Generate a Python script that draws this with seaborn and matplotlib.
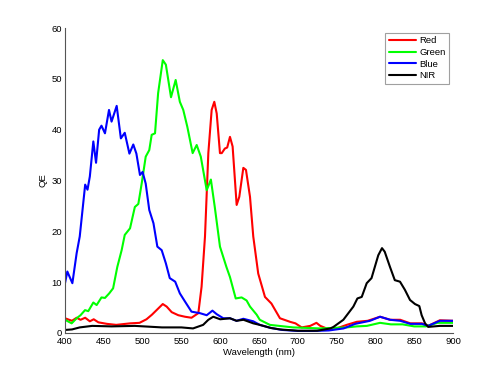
import numpy as np
import pandas as pd
import matplotlib
matplotlib.use("Agg")
import matplotlib.pyplot as plt
import seaborn as sns

red_x = [400, 409, 415, 420, 426, 432, 437, 443, 454, 466, 484, 496, 505, 512, 518, 526, 531, 537.5, 546, 554.6, 563,
         571.8, 576, 580.4, 584.7, 589, 592.4, 595.5, 599.7, 602, 606, 609, 612.6, 616, 621.2, 624.6, 629.8, 633.2,
         638.4, 642.6, 649, 657.7, 666, 677, 690, 697, 705, 716, 724, 729, 737, 750, 763, 776, 790, 806, 819, 832,
         845, 860, 868, 883, 900]
red_y = [2.9, 2.4, 3.0, 2.6, 3.0, 2.3, 2.7, 2.1, 1.8, 1.6, 1.9, 2.0, 2.7, 3.6, 4.5, 5.7, 5.2, 4.1, 3.5, 3.2, 3.0,
         3.9, 9.1, 19.0, 35.4, 43.9, 45.5, 43.2, 35.4, 35.4, 36.3, 36.5, 38.6, 36.7, 25.2, 26.8, 32.5, 32.1,
         26.8, 19.0, 11.7, 7.1, 5.8, 2.9, 2.2, 1.9, 1.1, 1.4, 2.0, 1.4, 0.9, 0.9, 1.6, 2.2, 2.4, 3.2, 2.6, 2.6,
         1.9, 1.9, 1.4, 2.5, 2.4]

green_x = [400, 408.6, 415, 420, 425.8, 430, 436.5, 440.8, 447, 451.5, 457, 462, 467.4, 473, 477, 483.8, 490, 494.5,
           498.8, 504, 508.6, 511.7, 516, 520, 526, 530, 536.6, 542.6, 548, 552.4, 557.6, 564.5, 569.7, 575, 582.6,
           588, 593, 599.7, 608, 612.6, 620, 627.6, 634, 638.4, 647, 651, 664, 694, 728.6, 763, 776, 789, 806,
           820, 835, 850, 865, 880, 900]
green_y = [2.6, 1.9, 2.9, 3.5, 4.5, 4.3, 6.0, 5.5, 7.0, 6.9, 7.8, 8.8, 13.0, 16.3, 19.3, 20.6, 24.8, 25.4,
           29.4, 34.7, 36.0, 39.0, 39.3, 47.2, 53.7, 52.8, 46.4, 49.8, 45.5, 43.9, 40.6, 35.4, 37.0, 34.7, 28.1,
           30.2, 24.8, 17.0, 13.0, 11.0, 6.8, 7.0, 6.4, 5.2, 3.6, 2.6, 1.6, 1.1, 0.9, 1.1, 1.3, 1.4, 2.0,
           1.7, 1.7, 1.3, 1.3, 2.0, 2.0]

blue_x = [400, 403, 409.5, 415, 419, 426, 429, 432, 436.5, 440, 444, 447, 451.5, 456.7, 460, 466.6, 472, 477, 483,
          488, 492, 496.6, 500, 504, 508.6, 514, 519, 524.6, 530, 535, 542, 548, 554.6, 563, 574, 582.6, 590,
          595.5, 604, 612.6, 621, 629.8, 642.6, 651, 665, 680, 700, 720, 740, 759, 774, 793, 806, 819, 832,
          845, 860, 868, 883, 898, 900]
blue_y = [9.8, 12.1, 9.8, 15.7, 19.0, 29.2, 28.2, 30.8, 37.7, 33.5, 40.0, 40.8, 39.3, 43.9, 41.6, 44.7, 38.3,
          39.4, 35.3, 37.1, 35.3, 31.1, 31.7, 29.4, 24.2, 21.6, 17.0, 16.3, 13.7, 10.8, 10.1, 7.8, 6.2, 4.2,
          3.9, 3.5, 4.4, 3.7, 2.9, 2.9, 2.4, 2.8, 2.3, 1.6, 1.0, 0.6, 0.4, 0.4, 0.5, 0.9, 1.8, 2.4, 3.2, 2.6,
          2.4, 1.8, 1.8, 1.4, 2.4, 2.4, 2.4]

nir_x = [400, 409, 419, 435, 460, 490, 525, 550, 565, 578, 584.7, 591, 600, 612.6, 621, 630, 642.6, 651, 665,
         677, 700, 725, 742, 746, 758.7, 771.6, 776.8, 782.4, 788.8, 795, 803.7, 808.5, 812, 818.8, 825, 831.7,
         838, 844.6, 851, 856.6, 859.6, 864, 868, 883, 900]
nir_y = [0.6, 0.7, 1.1, 1.4, 1.3, 1.4, 1.1, 1.1, 0.9, 1.6, 2.6, 3.2, 2.7, 2.9, 2.4, 2.6, 1.9, 1.6, 1.0,
         0.7, 0.45, 0.45, 0.9, 1.2, 2.6, 5.2, 6.8, 7.1, 9.8, 10.8, 15.3, 16.7, 16.0, 13.0, 10.4, 10.1,
         8.5, 6.5, 5.7, 5.3, 3.5, 1.9, 1.2, 1.4, 1.4]

channels = ["Red", "Green", "Blue", "NIR"]
colors = ["#ff0000", "#00ff00", "#0000ff", "#000000"]

frames = []
for name, xs, ys in [("Red", red_x, red_y), ("Green", green_x, green_y),
                     ("Blue", blue_x, blue_y), ("NIR", nir_x, nir_y)]:
    frames.append(pd.DataFrame({"Wavelength": xs, "QE": ys, "Channel": name}))
df = pd.concat(frames, ignore_index=True)

sns.set_style("white")
plt.rcParams['font.family'] = ['Liberation Sans', 'DejaVu Sans']
plt.rcParams['text.color'] = 'black'
plt.rcParams['axes.labelcolor'] = 'black'
plt.rcParams['xtick.labelcolor'] = 'black'
plt.rcParams['ytick.labelcolor'] = 'black'

FS = 6.8
fig = plt.figure(figsize=(5, 3.75), dpi=100)
ax = fig.add_axes([0.13, 0.112, 0.776, 0.813])
sns.lineplot(data=df, x="Wavelength", y="QE", hue="Channel", hue_order=channels,
             palette=colors, estimator=None, sort=True, linewidth=1.5, ax=ax)

ax.set_xlim(400, 900)
ax.set_ylim(0, 60)
ax.set_xticks(np.arange(400, 901, 50))
ax.set_yticks(np.arange(0, 61, 10))
ax.set_xlabel("Wavelength (nm)", fontsize=FS, labelpad=1)
ax.set_ylabel("QE", fontsize=FS, labelpad=3)
ax.tick_params(axis="both", direction="in", length=3, labelsize=FS, color="#555555")
ax.tick_params(axis="x", pad=3)
ax.tick_params(axis="y", pad=2)
for side in ["top", "right"]:
    ax.spines[side].set_visible(False)
for side in ["left", "bottom"]:
    ax.spines[side].set_color("#555555")
    ax.spines[side].set_linewidth(0.8)

leg = ax.legend(loc="upper right", fontsize=FS, frameon=True, fancybox=False,
                edgecolor="#888888", handlelength=2.9, handletextpad=0.35,
                borderpad=0.35, labelspacing=0.28, borderaxespad=0,
                bbox_to_anchor=(0.99, 0.984))
leg.get_frame().set_linewidth(0.8)

fig.savefig("out.png", dpi=100, facecolor="white")
